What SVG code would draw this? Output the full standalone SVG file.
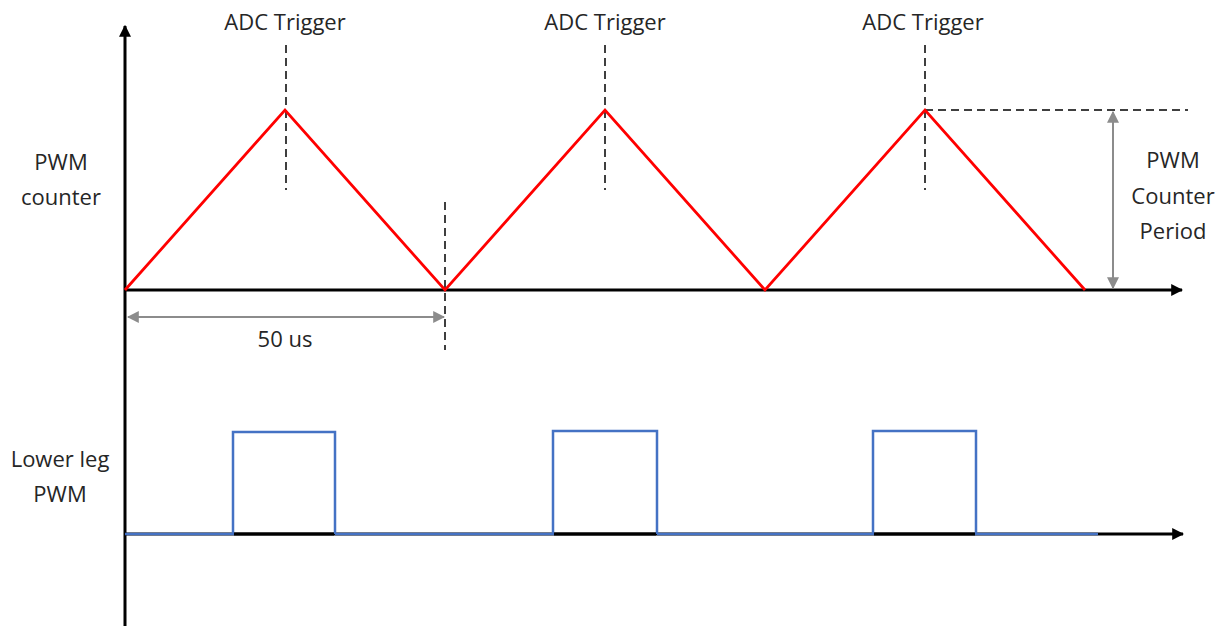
<svg xmlns="http://www.w3.org/2000/svg" width="1217" height="626" viewBox="0 0 1217 626">
<defs>
<style>
.t{font-family:"Open Sans","Liberation Sans",sans-serif;font-size:22px;fill:#262626;text-anchor:middle}
.axis{stroke:#000;stroke-width:3;fill:none}
.dash{stroke:#000;stroke-width:1.5;stroke-dasharray:8,5;fill:none}
.gray{stroke:#8c8c8c;stroke-width:2;fill:none}
.tri{stroke:#ff0000;stroke-width:2.8;fill:none;stroke-linejoin:miter}
.pwm{stroke:#4472c4;stroke-width:2.5;fill:none}
</style>
<marker id="ah" viewBox="0 0 10 10" refX="9" refY="5" markerWidth="4" markerHeight="4" orient="auto" markerUnits="strokeWidth">
<path d="M0,0 L10,5 L0,10 z" fill="#000"/>
</marker>
<marker id="gh" viewBox="0 0 10 10" refX="9" refY="5" markerWidth="6" markerHeight="6" orient="auto-start-reverse" markerUnits="strokeWidth">
<path d="M0,0 L10,5 L0,10 z" fill="#8c8c8c"/>
</marker>
</defs>
<g id="connectors">
<line class="axis" x1="125" y1="626" x2="125" y2="26" marker-end="url(#ah)"/>
<line class="axis" x1="124" y1="290" x2="1182" y2="290" marker-end="url(#ah)"/>
<line class="axis" x1="124" y1="534" x2="1183" y2="534" marker-end="url(#ah)"/>
<line class="dash" x1="286" y1="45" x2="286" y2="190"/>
<line class="dash" x1="605" y1="45" x2="605" y2="190"/>
<line class="dash" x1="925" y1="45" x2="925" y2="190"/>
<line class="dash" x1="445" y1="202" x2="445" y2="350"/>
<line class="dash" x1="925" y1="110" x2="1188" y2="110"/>
<line class="gray" x1="128" y1="317" x2="444" y2="317" marker-start="url(#gh)" marker-end="url(#gh)"/>
<line class="gray" x1="1113" y1="112" x2="1113" y2="288" marker-start="url(#gh)" marker-end="url(#gh)"/>
</g>
<g id="counter">
<polyline class="tri" points="125,290 285,110 445,290 605,110 765,290 925,110 1085,290"/>
</g>
<g id="lower-pwm">
<polyline class="pwm" points="125,534 233,534 233,432 335,432 335,534"/>
<polyline class="pwm" points="335,534 553,534 553,431 657,431 657,534"/>
<polyline class="pwm" points="657,534 873,534 873,431 976,431 976,534 1098,534"/>
<line x1="234" y1="534" x2="334" y2="534" stroke="#000" stroke-width="3"/>
<line x1="554" y1="534" x2="656" y2="534" stroke="#000" stroke-width="3"/>
<line x1="874" y1="534" x2="975" y2="534" stroke="#000" stroke-width="3"/>
</g>
<g id="labels">
<text class="t" x="285" y="30">ADC Trigger</text>
<text class="t" x="605" y="30">ADC Trigger</text>
<text class="t" x="923" y="30">ADC Trigger</text>
<text class="t" x="61" y="170">PWM</text>
<text class="t" x="61" y="205">counter</text>
<text class="t" x="1173" y="168">PWM</text>
<text class="t" x="1173" y="204">Counter</text>
<text class="t" x="1173" y="239">Period</text>
<text class="t" x="60" y="467">Lower leg</text>
<text class="t" x="60" y="502">PWM</text>
<text class="t" x="285" y="347">50 us</text>
</g>
</svg>
